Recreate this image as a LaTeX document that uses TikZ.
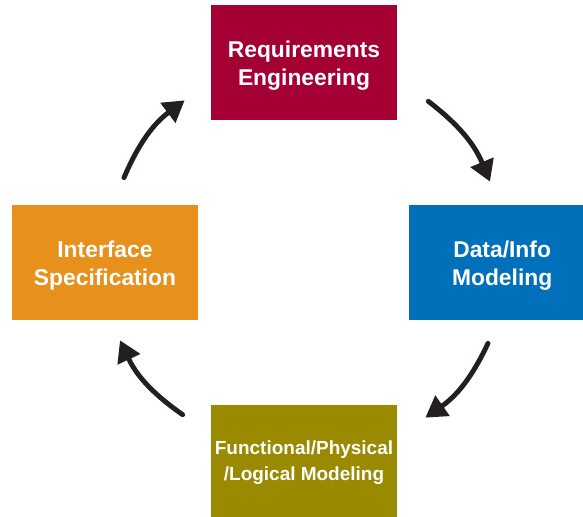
\documentclass[tikz,border=0pt]{standalone}
\usepackage{fontspec}
\setmainfont{Liberation Sans}
\usetikzlibrary{arrows.meta,positioning}
\definecolor{reqred}{HTML}{A50034}
\definecolor{datablue}{HTML}{0070BA}
\definecolor{funcolive}{HTML}{998A00}
\definecolor{intforange}{HTML}{E8901C}
\definecolor{arrowblack}{HTML}{231F20}

\begin{document}
\begin{tikzpicture}[line join=round, line cap=round,
	x=0.02cm, y=-0.02cm,
	box/.style={inner sep=0pt, text=white, font=\bfseries\fontsize{13}{16}\selectfont, align=center},
	cycarrow/.style={draw=arrowblack, line width=2.8pt, -{Triangle[length=0.42cm,width=0.48cm]}}]
		\useasboundingbox (0,0) rectangle (583,517);
		\node[box, fill=reqred, minimum width=3.72cm, minimum height=2.3cm] (req) at (304,62.5) {};
		\node[box, fill=datablue, minimum width=3.48cm, minimum height=2.3cm] (data) at (496,262.5) {};
		\node[box, fill=funcolive, minimum width=3.72cm, minimum height=2.24cm] (func) at (304,461) {};
		\node[box, fill=intforange, minimum width=3.72cm, minimum height=2.3cm] (intf) at (105,262.5) {};
		% labels, a little below the box centres
		\node[box] (reqtext) at ([yshift=-2pt]req.center) {Requirements\\Engineering};
		\node[box] (datatext) at ([xshift=3.5pt,yshift=-2pt]data.center) {Data/Info\\Modeling};
		\node[box, font=\bfseries\fontsize{10.8}{15}\selectfont] (functext) at ([yshift=-1pt]func.center) {Functional/Physical\\/Logical Modeling};
		\node[box] (intftext) at ([yshift=-2pt]intf.center) {Interface\\Specification};
		% arrows round the cycle
		\draw[cycarrow] ([shift={(31,-19)}]req.south east) to[bend left=15] ([shift={(-6,-23)}]data.north);
		\draw[cycarrow] ([shift={(-8,23)}]data.south) to[bend left=15] ([shift={(28,13)}]func.north east);
		\draw[cycarrow] ([shift={(-28,10)}]func.north west) to[bend left=15] ([shift={(15,20)}]intf.south);
		\draw[cycarrow] ([shift={(19,-27)}]intf.north) to[bend left=15] ([shift={(-26,-20)}]req.south west);
\end{tikzpicture}
\end{document}
